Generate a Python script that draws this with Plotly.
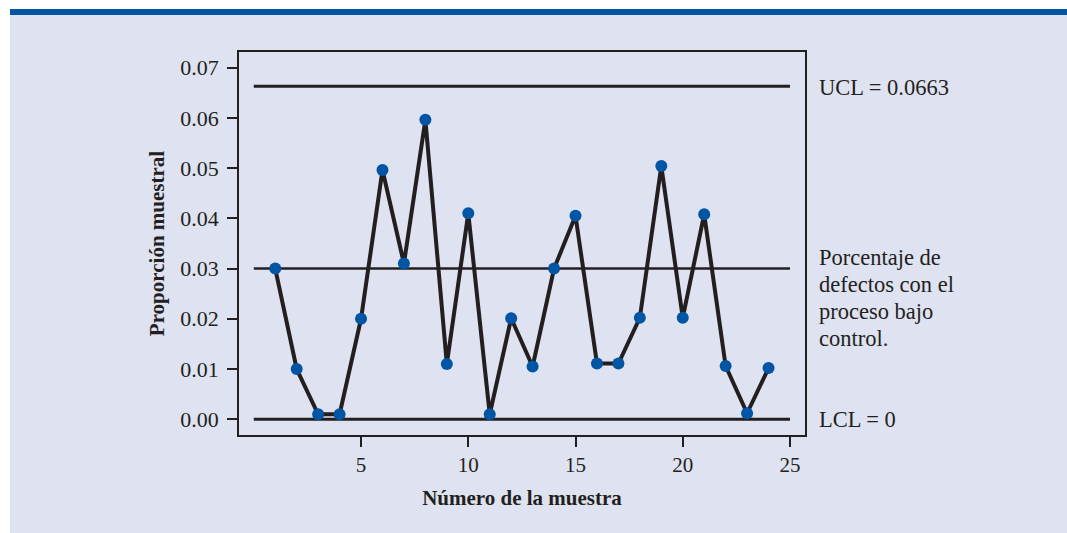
import plotly.graph_objects as go

# ---- data ----
muestra = list(range(1, 25))
proporcion = [0.030, 0.010, 0.001, 0.001, 0.020, 0.0496, 0.031, 0.0596, 0.011, 0.041,
              0.001, 0.0201, 0.0105, 0.030, 0.0405, 0.0111, 0.0111, 0.0202, 0.0504, 0.0202,
              0.0408, 0.0106, 0.0012, 0.0102]
limit_x = [0, 25]
ucl = 0.0663
cl = 0.03
lcl = 0.0
x_ticks = [5, 10, 15, 20, 25]
y_ticks = [0.00, 0.01, 0.02, 0.03, 0.04, 0.05, 0.06, 0.07]
y_ticklabels = ["0.00", "0.01", "0.02", "0.03", "0.04", "0.05", "0.06", "0.07"]
cl_note_lines = ["Porcentaje de", "defectos con el", "proceso bajo", "control."]

# ---- style ----
W, H = 1067, 533
L, R, T, B = 239, 262, 52, 98
pw, ph = W - L - R, H - T - B
INK = "#231f20"
BLUE = "#0055a5"
PANEL = "#dfe2f0"
FONT = "Liberation Serif"

def px_x(p):
    return (p - L) / pw

def px_y(p):
    return (H - B - p) / ph

fig = go.Figure()

for yv in (ucl, cl, lcl):
    fig.add_trace(go.Scatter(x=limit_x, y=[yv, yv], mode="lines",
                             line=dict(color=INK, width=3 if yv != cl else 2.5),
                             hoverinfo="skip", showlegend=False))

fig.add_trace(go.Scatter(x=muestra, y=proporcion, mode="lines+markers",
                         line=dict(color=INK, width=4),
                         marker=dict(color=BLUE, size=12, line=dict(width=0)),
                         showlegend=False))

shapes = [
    dict(type="rect", xref="paper", yref="paper", x0=px_x(10), x1=px_x(W + 5),
         y0=px_y(H + 5), y1=px_y(15), fillcolor=PANEL, line=dict(width=0), layer="below"),
    dict(type="rect", xref="paper", yref="paper", x0=px_x(10), x1=px_x(W + 5),
         y0=px_y(15), y1=px_y(9), fillcolor="#0054a4", line=dict(width=0), layer="below"),
]

ann_font = dict(family=FONT, size=22.5, color=INK)
annotations = [
    dict(x=px_x(817), xref="paper", y=ucl, yref="y", yshift=-1, text="UCL = 0.0663",
         showarrow=False, xanchor="left", yanchor="middle", font=ann_font),
    dict(x=px_x(817), xref="paper", y=lcl, yref="y", text="LCL = 0",
         showarrow=False, xanchor="left", yanchor="middle", font=ann_font),
]
for i, line in enumerate(cl_note_lines):
    annotations.append(dict(x=px_x(817), xref="paper", y=px_y(257 + 27 * i), yref="paper",
                            text=line, showarrow=False, xanchor="left", yanchor="middle",
                            align="left", font=ann_font))

fig.update_layout(
    width=W, height=H,
    margin=dict(l=L, r=R, t=T, b=B, pad=0),
    paper_bgcolor="white", plot_bgcolor=PANEL,
    shapes=shapes, annotations=annotations,
    font=dict(family=FONT, color=INK),
)

fig.update_xaxes(range=[-0.69, 25.7], tickvals=x_ticks, ticks="outside", ticklen=10,
                 tickwidth=1.5, tickcolor=INK, showline=True, linecolor=INK, linewidth=1.5,
                 mirror=True, showgrid=False, zeroline=False, ticklabelstandoff=0,
                 tickfont=dict(family=FONT, size=21, color=INK),
                 title=dict(text="<b>Número de la muestra</b>", standoff=14,
                            font=dict(family=FONT, size=21, color=INK)))
fig.update_yaxes(range=[-0.00313, 0.0731], tickvals=y_ticks, ticktext=y_ticklabels,
                 ticks="outside", ticklen=10, tickwidth=1.5, tickcolor=INK,
                 showline=True, linecolor=INK, linewidth=1.5, mirror=True,
                 showgrid=False, zeroline=False, ticklabelstandoff=4,
                 tickfont=dict(family=FONT, size=22, color=INK),
                 title=dict(text="<b>Proporción muestral</b>", standoff=10,
                            font=dict(family=FONT, size=21, color=INK)))

fig.write_html("out.html", config={"displayModeBar": False},
               post_script="document.body.style.margin='0';document.body.style.overflow='hidden';")
